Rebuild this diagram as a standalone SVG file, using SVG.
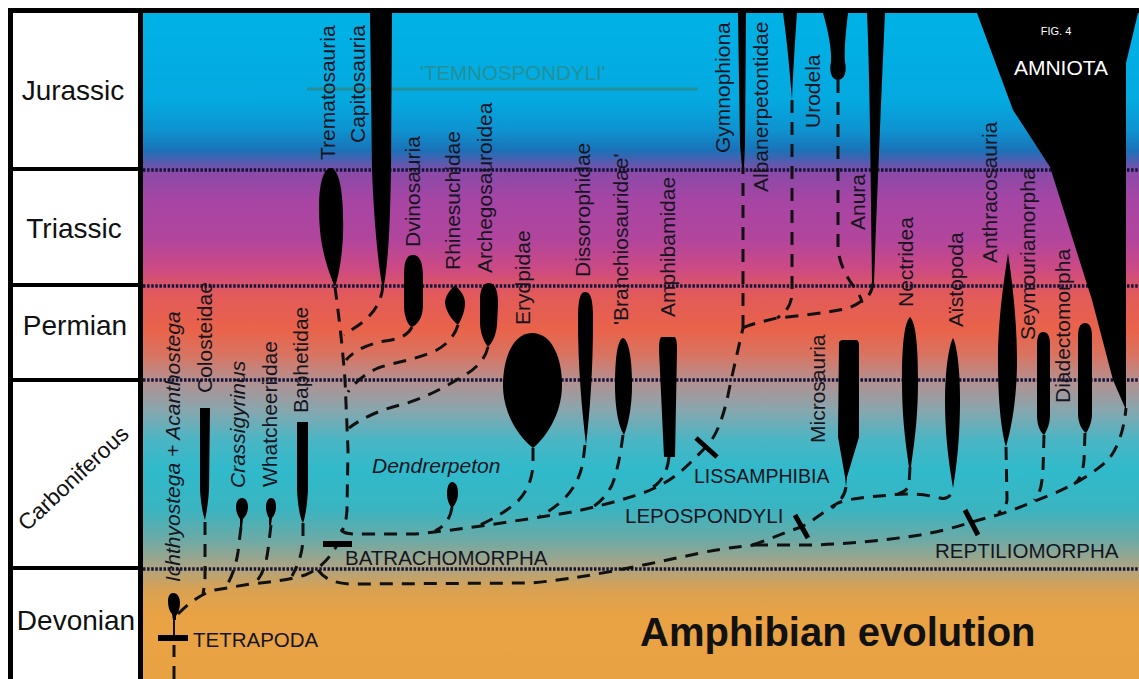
<svg xmlns="http://www.w3.org/2000/svg" width="1139" height="679" viewBox="0 0 1139 679">
<defs>
<linearGradient id="bg" gradientUnits="userSpaceOnUse" x1="0" y1="13" x2="0" y2="679">
<stop offset="0" stop-color="#00b2e6"/>
<stop offset="0.131" stop-color="#04a9e0"/>
<stop offset="0.176" stop-color="#0e93d0"/>
<stop offset="0.206" stop-color="#1a72b8"/>
<stop offset="0.221" stop-color="#4a5fb0"/>
<stop offset="0.239" stop-color="#8a4aa8"/>
<stop offset="0.281" stop-color="#a645a4"/>
<stop offset="0.341" stop-color="#b2459c"/>
<stop offset="0.383" stop-color="#cc4a84"/>
<stop offset="0.423" stop-color="#e25a5a"/>
<stop offset="0.476" stop-color="#e9634a"/>
<stop offset="0.514" stop-color="#d87462"/>
<stop offset="0.551" stop-color="#b58f8f"/>
<stop offset="0.596" stop-color="#88a6ae"/>
<stop offset="0.641" stop-color="#4ab5c4"/>
<stop offset="0.686" stop-color="#30bacb"/>
<stop offset="0.746" stop-color="#3ab4c0"/>
<stop offset="0.791" stop-color="#6caaa6"/>
<stop offset="0.829" stop-color="#a8a486"/>
<stop offset="0.866" stop-color="#d9a152"/>
<stop offset="0.904" stop-color="#e9a244"/>
<stop offset="1" stop-color="#e8a244"/>
</linearGradient>
<style>
.per{font-family:"Liberation Sans",Arial,sans-serif;font-size:28px;fill:#111;text-anchor:middle}
.tx{font-family:"Liberation Sans",Arial,sans-serif;font-size:21px;fill:#15151f}
.it{font-style:italic}
.lb{font-family:"Liberation Sans",Arial,sans-serif;font-size:20.5px;fill:#15151f}
.dot{stroke:#14143a;stroke-width:3.5;stroke-dasharray:2.5 1.6;fill:none}
.blk{fill:#000}
.c{fill:none;stroke:#111;stroke-width:3;stroke-dasharray:13 9}
.bar{stroke:#000;stroke-width:6;fill:none}
.sep{stroke:#000;stroke-width:4}
</style>
</defs>
<rect x="0" y="0" width="1139" height="679" fill="#fff"/>
<rect x="142" y="13" width="997" height="666" fill="url(#bg)"/>
<g id="frame">
<rect x="8" y="8" width="1131" height="5" fill="#000"/>
<rect x="8" y="8" width="5" height="671" fill="#000"/>
<rect x="138" y="8" width="5" height="671" fill="#000"/>
<line class="sep" x1="13" y1="169" x2="140" y2="169"/>
<line class="sep" x1="13" y1="285" x2="140" y2="285"/>
<line class="sep" x1="13" y1="380" x2="140" y2="380"/>
<line class="sep" x1="13" y1="568" x2="140" y2="568"/>
</g>
<g id="periods">
<text class="per" x="73" y="100">Jurassic</text>
<text class="per" x="74" y="238">Triassic</text>
<text class="per" x="75" y="335">Permian</text>
<text class="per" x="73" y="478" transform="rotate(-43 73 478)" dy="8" style="font-size:22.5px">Carboniferous</text>
<text class="per" x="76" y="630">Devonian</text>
</g>
<g id="boundaries">
<line class="dot" x1="143" y1="170" x2="1139" y2="170"/>
<line class="dot" x1="143" y1="286" x2="1139" y2="286"/>
<line class="dot" x1="143" y1="380" x2="1139" y2="380"/>
<line class="dot" x1="143" y1="569" x2="1139" y2="569"/>
</g>
<g id="temnospondyli">
<line x1="307" y1="89" x2="698" y2="89" stroke="#2a8c8c" stroke-width="3" opacity="0.85"/>
<text x="420" y="80" style="font-family:'Liberation Sans',Arial,sans-serif;font-size:20.5px;fill:#2a8c8c;opacity:0.85">'TEMNOSPONDYLI'</text>
</g>
<g id="connectors">
<path class="c" d="M174,679 L174,645"/>
<path d="M174,617 L174,641" stroke="#111" stroke-width="2" fill="none"/>
<path class="c" d="M178,614 C188,604 200,594 215,590 L250,584 C270,582 290,580 305,575 C318,570 328,560 334,550 L338,544"/>
<path class="c" d="M318,570 C324,578 332,583 350,584 L530,583 C580,579 640,566 700,553 C725,548 745,546 755,545"/>
<path class="c" d="M752,545 C765,541 778,535 801,527 C815,520 825,510 838,503 C850,498 870,497 890,495 C905,493 925,494 940,498 C948,500 952,495 953,488"/>
<path class="c" d="M755,545 L800,545 C840,545 880,541 920,535 C950,530 970,522 990,517 C1010,512 1030,503 1050,495 C1075,485 1095,472 1108,460 C1118,448 1124,430 1126,408"/>
<path class="c" d="M205,522 L205,575 C205,583 204,588 203,594"/>
<path class="c" d="M241,527 L238,552 C236,565 232,578 225,588"/>
<path class="c" d="M271,525 L268,550 C266,565 262,576 255,583"/>
<path class="c" d="M303,523 L303,540 C302,555 298,565 292,576"/>
<path class="c" d="M335,287 C338,310 342,340 345,380 L348,450 L347,510 C346,522 345,528 341,531"/>
<path class="c" d="M341,530 C345,535 355,534 370,534 L415,534 C460,530 520,520 560,514 C590,509 615,502 640,494 C660,487 675,478 690,463 L706,447 C716,437 722,420 727,400 C732,375 738,350 743,328"/>
<path class="c" d="M743,328 L743,167"/>
<path class="c" d="M743,328 C748,325 760,322 777,318 C800,316 830,312 845,309 C852,307 858,304 863,300"/>
<path class="c" d="M873,283 C872,292 868,298 862,302"/>
<path class="c" d="M838,80 L838,250 C840,265 848,280 855,288 C859,294 861,298 862,302"/>
<path class="c" d="M792,100 L792,295 C791,305 786,313 777,318"/>
<path class="c" d="M383,285 C382,300 375,312 363,322 C355,328 348,332 344,335"/>
<path class="c" d="M412,327 C408,335 400,339 385,341 C368,344 355,350 346,360"/>
<path class="c" d="M458,325 C455,335 447,345 435,351 C415,360 395,362 378,368 C365,374 355,382 348,392"/>
<path class="c" d="M488,347 C485,360 475,370 460,378 C440,390 420,400 400,405 C380,410 362,418 349,428"/>
<path class="c" d="M452,507 C451,515 448,522 440,528 L435,531"/>
<path class="c" d="M533,448 L533,465 C532,480 527,492 517,502 C505,512 495,518 480,525"/>
<path class="c" d="M585,445 L583,462 C580,478 573,490 563,500 C555,507 548,512 540,516"/>
<path class="c" d="M623,435 C621,450 618,470 612,485 C607,495 600,502 593,507"/>
<path class="c" d="M669,457 C668,468 664,478 656,485 L645,491"/>
<path class="c" d="M846,487 C845,495 840,502 832,508"/>
<path class="c" d="M910,467 L909,485 C908,490 903,492 898,494"/>
<path class="c" d="M1006,447 L1007,500 C1006,507 1003,510 998,513"/>
<path class="c" d="M1044,435 L1043,470 C1042,485 1040,495 1034,500"/>
<path class="c" d="M1085,433 L1084,460 C1083,472 1080,480 1074,484"/>
</g>
<g id="tetrapoda">
<line class="bar" x1="158" y1="638" x2="188" y2="638"/>
<text class="lb" x="193" y="647">TETRAPODA</text>
</g>
<g id="batrachomorpha">
<line class="bar" x1="323" y1="544" x2="352" y2="544"/>
<text class="lb" x="345" y="565">BATRACHOMORPHA</text>
</g>
<g id="lissamphibia">
<line class="bar" x1="696" y1="438" x2="717" y2="457" style="stroke-width:5"/>
<text class="lb" x="694" y="483" style="font-size:19.5px">LISSAMPHIBIA</text>
</g>
<g id="lepospondyli">
<line class="bar" x1="795" y1="515" x2="808" y2="538" style="stroke-width:5"/>
<text class="lb" x="625" y="523">LEPOSPONDYLI</text>
</g>
<g id="reptiliomorpha">
<line class="bar" x1="965" y1="510" x2="978" y2="535" style="stroke-width:5"/>
<text class="lb" x="935" y="558">REPTILIOMORPHA</text>
</g>
<g id="ichthyostega">
<path class="blk" d="M173,593 C178,593 180,598 180,603 C180,609 178,613 176,616 L176,620 L173,620 L172,614 C169,611 168,606 168,601 C168,596 170,593 173,593 Z"/>
<text class="tx it" transform="translate(180 582) rotate(-90)">Ichthyostega + Acanthostega</text>
</g>
<g id="colosteidae">
<path class="blk" d="M200,408 L210,408 L209,490 C208,505 206,515 205,520 C203,515 201,505 200,490 Z"/>
<text class="tx" transform="translate(212 393) rotate(-90)">Colosteidae</text>
</g>
<g id="crassigyrinus">
<path class="blk" d="M242,498 C246,498 248,502 248,507 C248,512 246,516 243,519 L242,527 L240,527 L240,519 C238,516 236,512 236,507 C236,502 238,498 242,498 Z"/>
<text class="tx it" transform="translate(245 488) rotate(-90)">Crassigyrinus</text>
</g>
<g id="whatcheeriidae">
<path class="blk" d="M271,498 C275,498 276,502 276,507 C276,512 274,516 272,518 L271,525 L269,525 L269,518 C267,515 266,511 266,507 C266,502 268,498 271,498 Z"/>
<text class="tx" transform="translate(277 487) rotate(-90)">Whatcheeriidae</text>
</g>
<g id="baphetidae">
<path class="blk" d="M297,422 L308,422 L308,490 C307,507 305,518 303,523 C300,518 298,507 297,490 Z"/>
<text class="tx" transform="translate(308 413) rotate(-90)">Baphetidae</text>
</g>
<g id="trematosauria">
<path class="blk" d="M331,168 C341,170 344,200 343,235 C342,260 338,278 335,287 C331,278 322,255 320,230 C317,195 321,168 331,168 Z"/>
<text class="tx" transform="translate(335 160) rotate(-90)">Trematosauria</text>
</g>
<g id="capitosauria">
<path class="blk" d="M370,13 L392,13 L391,170 C390,230 388,262 384,285 L382,285 C378,262 374,222 372,170 Z"/>
<text class="tx" transform="translate(365 143) rotate(-90)">Capitosauria</text>
</g>
<g id="dvinosauria">
<path class="blk" d="M413,255 C421,255 423,265 423,280 L423,305 C423,318 417,325 412,327 C407,325 404,315 404,305 L404,275 C404,262 406,255 413,255 Z"/>
<text class="tx" transform="translate(420 247) rotate(-90)">Dvinosauria</text>
</g>
<g id="rhinesuchidae">
<path class="blk" d="M455,285 C460,290 465,296 465,303 C465,312 461,320 458,325 C452,320 446,312 445,303 C445,296 450,290 455,285 Z"/>
<text class="tx" transform="translate(460 270) rotate(-90)">Rhinesuchidae</text>
</g>
<g id="archegosauroidea">
<path class="blk" d="M489,283 C496,283 498,292 498,305 L497,325 C496,337 491,344 488,347 C484,342 480,333 480,322 L480,300 C480,289 483,283 489,283 Z"/>
<text class="tx" transform="translate(492 273) rotate(-90)">Archegosauroidea</text>
</g>
<g id="erydpidae">
<path class="blk" d="M532,333 C552,333 562,358 562,385 C562,415 545,438 533,448 C520,438 503,415 503,385 C503,358 513,333 532,333 Z"/>
<text class="tx" transform="translate(530 325) rotate(-90)">Erydpidae</text>
</g>
<g id="dendrerpeton">
<path class="blk" d="M452,482 C456,482 458,487 458,493 C458,500 455,505 452,508 C449,505 447,500 447,493 C447,487 449,482 452,482 Z"/>
<text class="lb it" x="372" y="473" style="font-size:21px">Dendrerpeton</text>
</g>
<g id="dissorophidae">
<path class="blk" d="M585,292 C591,292 593,300 593,320 C593,370 590,410 586,445 C582,410 578,370 578,320 C578,300 580,292 585,292 Z"/>
<text class="tx" transform="translate(590 277) rotate(-90)">Dissorophidae</text>
</g>
<g id="branchiosauridae">
<path class="blk" d="M623,338 C629,340 632,360 632,385 C632,410 627,428 624,435 C619,428 615,410 615,385 C615,360 617,340 623,338 Z"/>
<text class="tx" transform="translate(628 325) rotate(-90)">'Branchiosauridae'</text>
</g>
<g id="amphibamidae">
<path class="blk" d="M661,337 L675,337 C677,340 677,345 677,350 L675,457 L664,457 L659,350 C659,345 659,340 661,337 Z"/>
<text class="tx" transform="translate(675 317) rotate(-90)">Amphibamidae</text>
</g>
<g id="gymnophiona">
<path class="blk" d="M738,13 L746,13 L745,145 L744,167 L742,167 L740,145 Z"/>
<text class="tx" transform="translate(730 153) rotate(-90)">Gymnophiona</text>
</g>
<g id="albanerpetontidae">
<path class="blk" d="M783,13 L797,13 C795,40 793,75 792,100 C790,75 787,40 783,13 Z"/>
<text class="tx" transform="translate(768 192) rotate(-90)">Albanerpetontidae</text>
</g>
<g id="urodela">
<path class="blk" d="M823,13 L848,13 C846,30 844,50 845,62 C847,70 845,80 838,80 C831,80 829,70 831,62 C832,50 828,30 823,13 Z"/>
<text class="tx" transform="translate(820 128) rotate(-90)">Urodela</text>
</g>
<g id="anura">
<path class="blk" d="M867,13 L885,13 C882,80 877,200 874,283 L872,283 C871,200 870,80 867,13 Z"/>
<text class="tx" transform="translate(865 230) rotate(-90)">Anura</text>
</g>
<g id="microsauria">
<path class="blk" d="M839,343 C839,341 841,340 843,340 L856,340 C858,340 859,342 859,345 L859,437 L847,477 L846,487 L845,477 L838,437 Z"/>
<text class="tx" transform="translate(825 443) rotate(-90)">Microsauria</text>
</g>
<g id="nectridea">
<path class="blk" d="M910,317 C915,322 918,340 918,380 C918,420 914,445 911,467 L909,467 C906,445 902,420 902,380 C902,340 905,322 910,317 Z"/>
<text class="tx" transform="translate(913 307) rotate(-90)">Nectridea</text>
</g>
<g id="aistopoda">
<path class="blk" d="M953,338 C957,345 960,370 960,400 C960,440 956,470 953,488 C950,470 945,440 945,400 C945,370 949,345 953,338 Z"/>
<text class="tx" transform="translate(963 327) rotate(-90)">Aïstopoda</text>
</g>
<g id="anthracosauria">
<path class="blk" d="M1008,253 C1012,280 1017,320 1017,360 C1017,400 1011,430 1006,447 C1001,430 998,400 998,360 C998,320 1004,280 1008,253 Z"/>
<text class="tx" transform="translate(997 263) rotate(-90)">Anthracosauria</text>
</g>
<g id="seymouriamorpha">
<path class="blk" d="M1043,332 C1048,332 1050,336 1050,345 L1050,415 C1050,425 1046,432 1044,435 C1040,432 1037,425 1037,415 L1037,345 C1037,336 1039,332 1043,332 Z"/>
<text class="tx" transform="translate(1035 340) rotate(-90)">Seymouriamorpha</text>
</g>
<g id="diadectomorpha">
<path class="blk" d="M1085,323 C1090,323 1092,328 1092,337 L1092,413 C1092,424 1088,430 1086,433 C1082,430 1078,424 1078,413 L1078,337 C1078,328 1080,323 1085,323 Z"/>
<text class="tx" transform="translate(1070 403) rotate(-90)">Diadectomorpha</text>
</g>
<g id="amniota">
<path class="blk" d="M977,13 L1138,13 L1126,63 L1126,410 L1113,380 L1092,300 L1050,167 L1013,110 Z"/>
<text x="1056" y="35" style="font-family:'Liberation Sans',Arial,sans-serif;font-size:11px;fill:#fff;text-anchor:middle">FIG. 4</text>
<text x="1061" y="75" style="font-family:'Liberation Sans',Arial,sans-serif;font-size:21px;fill:#fff;text-anchor:middle">AMNIOTA</text>
</g>
<g id="title">
<text x="640" y="646" style="font-family:'Liberation Sans',Arial,sans-serif;font-size:40px;font-weight:bold;fill:#111">Amphibian evolution</text>
</g>
</svg>
